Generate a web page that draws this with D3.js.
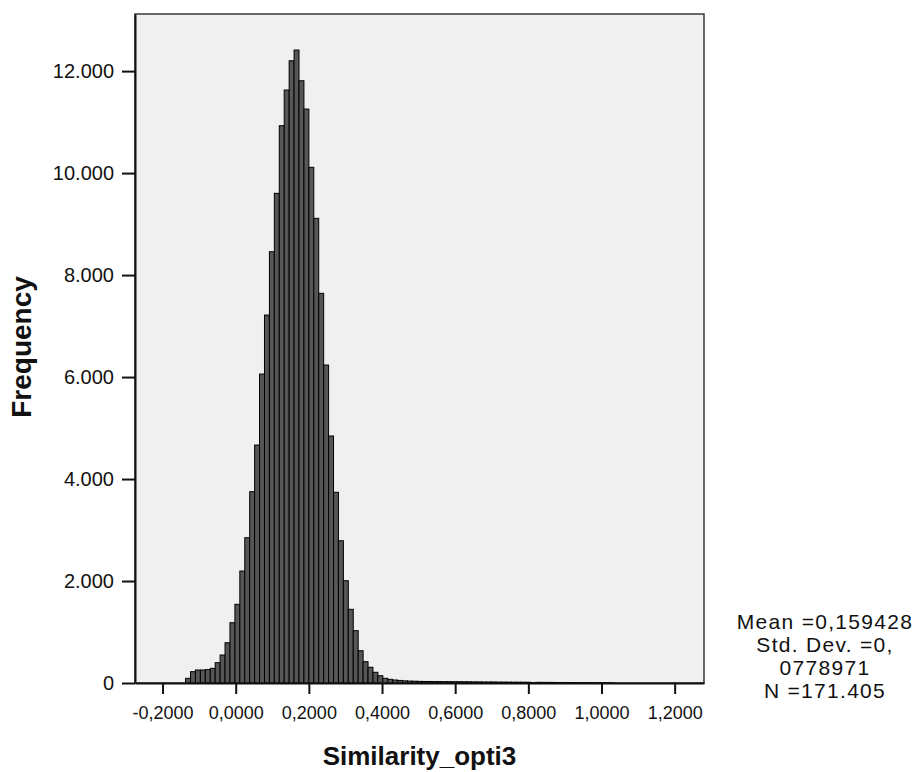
<!DOCTYPE html>
<html>
<head>
<meta charset="utf-8">
<script src="https://cdn.jsdelivr.net/npm/d3@7"></script>
<style>
  body { margin: 0; background: #fff; }
  svg text { font-family: "Liberation Sans", Arial, sans-serif; fill: #111; }
</style>
</head>
<body>
<svg id="chart" width="918" height="772"></svg>
<script>
// histogram bins (Similarity_opti3)
var binStart = -0.137;
var binWidth = 0.01348;
var frequencies = [
  92, 222, 255, 255, 262, 288, 398, 549, 790, 1182,
  1543, 2196, 2849, 3751, 4667, 6059, 7216, 8458, 9603, 10929,
  11629, 12203, 12413, 11811, 11256, 10113, 9113, 7642, 6236, 4844,
  3740, 2790, 2006, 1445, 1026, 633, 418, 308, 210, 143,
  92, 72, 59, 50, 42, 38, 35, 32, 30, 30,
  28, 28, 26, 26, 25, 25, 24, 24, 22, 22,
  20, 20, 20, 18, 18, 17, 16, 16, 15, 14,
  6, 13, 12, 12, 11, 10, 10, 9, 9, 8,
  7, 7, 3, 5, 5, 4, 3
];

var xTicks = [-0.2, 0, 0.2, 0.4, 0.6, 0.8, 1.0, 1.2];
var yTicks = [0, 2000, 4000, 6000, 8000, 10000, 12000];
var xDomain = [-0.2753, 1.2802];
var yDomain = [0, 13120];

var xTitle = "Similarity_opti3";
var yTitle = "Frequency";
var stats = ["Mean =0,159428", "Std. Dev. =0,", "0778971", "N =171.405"];

(function() {

  var margin = { top: 14, right: 214, bottom: 89, left: 135 };
  var width = 918 - margin.left - margin.right,
      height = 772 - margin.top - margin.bottom;

  var locale = d3.formatLocale({
    decimal: ",",
    thousands: ".",
    grouping: [3],
    currency: ["", ""],
    minus: "-"
  });

  var xScale = d3.scaleLinear()
      .domain(xDomain)
      .range([0, width]);

  var yScale = d3.scaleLinear()
      .domain(yDomain)
      .range([height, 0]);

  var bins = frequencies.map(function(f, i) {
    return { x0: binStart + i * binWidth, x1: binStart + (i + 1) * binWidth, count: f };
  });

  var svg = d3.select('#chart')
    .append('g')
      .attr('transform', 'translate(' + margin.left + ',' + margin.top + ')');

  svg.append('rect')
      .attr('class', 'plot-bg')
      .attr('width', width)
      .attr('height', height)
      .attr('fill', '#f0f0f0')
      .attr('stroke', '#3a3a3a')
      .attr('stroke-width', 1.5);

  svg.selectAll('.bar')
      .data(bins.filter(function(d) { return d.count > 0; }))
    .enter().append('rect')
      .attr('class', 'bar')
      .attr('x', function(d) { return xScale(d.x0); })
      .attr('y', function(d) { return yScale(d.count); })
      .attr('width', function(d) { return xScale(d.x1) - xScale(d.x0); })
      .attr('height', function(d) { return height - yScale(d.count); })
      .attr('fill', '#565656')
      .attr('stroke', '#000')
      .attr('stroke-width', 1);

  var yAxis = svg.append('g')
      .attr('class', 'axis y-axis')
      .call(d3.axisLeft(yScale)
        .tickValues(yTicks)
        .tickFormat(locale.format(',d'))
        .tickSize(13)
        .tickSizeOuter(0)
        .tickPadding(8));

  var xAxis = svg.append('g')
      .attr('class', 'axis x-axis')
      .attr('transform', 'translate(0,' + height + ')')
      .call(d3.axisBottom(xScale)
        .tickValues(xTicks)
        .tickFormat(locale.format('.4f'))
        .tickSize(11)
        .tickSizeOuter(0)
        .tickPadding(12));

  svg.selectAll('.axis .domain')
      .attr('stroke', '#111')
      .attr('stroke-width', 2);

  svg.selectAll('.axis .tick line')
      .attr('stroke', '#111')
      .attr('stroke-width', 2);

  yAxis.selectAll('text')
      .style('font-size', '20px');

  xAxis.selectAll('text')
      .style('font-size', '18px');

  svg.append('text')
      .attr('class', 'x-title')
      .attr('x', width / 2)
      .attr('y', height + 82)
      .attr('text-anchor', 'middle')
      .style('font-size', '26px')
      .style('font-weight', 'bold')
      .text(xTitle);

  svg.append('text')
      .attr('class', 'y-title')
      .attr('transform', 'translate(' + (31 - margin.left) + ',' + 333 + ') rotate(-90)')
      .attr('text-anchor', 'middle')
      .style('font-size', '28px')
      .style('font-weight', 'bold')
      .text(yTitle);

  svg.append('g')
      .attr('class', 'stats')
    .selectAll('text')
      .data(stats)
    .enter().append('text')
      .attr('x', 825 - margin.left)
      .attr('y', function(d, i) { return 629 - margin.top + i * 23; })
      .attr('text-anchor', 'middle')
      .style('font-size', '21px')
      .style('letter-spacing', '1.3px')
      .text(function(d) { return d; });

})()
</script>
</body>
</html>
